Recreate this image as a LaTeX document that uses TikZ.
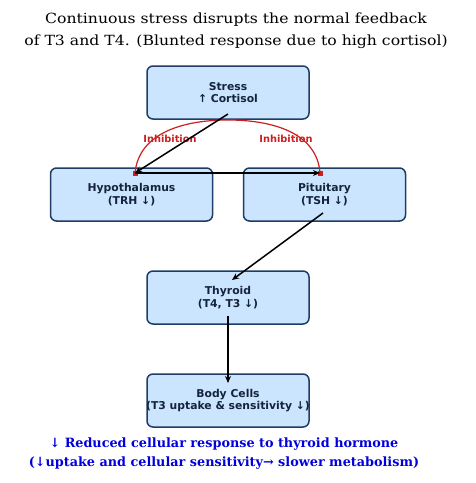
\documentclass[tikz,border=0pt]{standalone}
\usepackage{fontspec}
\setmainfont{DejaVu Serif}
\setsansfont{DejaVu Sans}
\newfontfamily\titlefont[FakeStretch=1.12]{DejaVu Serif}
\usetikzlibrary{arrows.meta}
\definecolor{boxfill}{HTML}{CCE5FF}
\definecolor{boxdraw}{HTML}{1F3C66}
\definecolor{boxtext}{HTML}{14243A}
\definecolor{inhred}{HTML}{CC1F1F}
\definecolor{notblue}{HTML}{0000DD}
\begin{document}
\begin{tikzpicture}[x=1pt,y=-1pt,
  box/.style={draw=boxdraw,fill=boxfill,line width=1.5pt,rounded corners=6pt,
    minimum width=162pt,minimum height=53pt,inner sep=0pt,align=center,
    font=\sffamily\bfseries\fontsize{10.8}{12.8}\selectfont,text=boxtext},
  flow/.style={line width=1.5pt,-{Stealth[length=7pt,width=6pt]}},
  inh/.style={draw=inhred,line width=1.2pt},
  inhlab/.style={text=inhred,font=\sffamily\bfseries\fontsize{9.8}{11}\selectfont},
  endsq/.style={fill=inhred,minimum size=5pt,inner sep=0pt},
]
\useasboundingbox (0,0) rectangle (476,483);
\node[font=\titlefont\fontsize{14}{22}\selectfont,align=center] (title) at (236,31)
  {Continuous stress disrupts the normal feedback\\of T3 and T4. (Blunted response due to high cortisol)};
\node[box] (stress) at (228,92.5) {Stress\\↑ Cortisol};
\node[box] (hypo) at (131.5,194.5) {Hypothalamus\\(TRH ↓)};
\node[box] (pit) at (324.5,194.5) {Pituitary\\(TSH ↓)};
\node[box] (thy) at (228,297.5) {Thyroid\\(T4, T3 ↓)};
\node[box,inner xsep=-6pt] (cells) at (228,400.5) {Body Cells\\(T3 uptake \& sensitivity ↓)};
\coordinate (top) at (228,120);
\coordinate (hin) at (135,173);
\coordinate (pin) at (320,173);
\draw[inh] (hin) .. controls (139,132) and (185,120) .. (top);
\draw[inh] (top) .. controls (271,120) and (317,132) .. (pin);
\node[endsq] (hm) at (hin) {};
\node[endsq] (pm) at (pin) {};
\node[inhlab] (l1) at (170,139) {Inhibition};
\node[inhlab] (l2) at (286,139) {Inhibition};
\coordinate (s1) at (228,114);
\draw[flow] (s1) -- (hin);
\draw[flow] (hin) -- (pin);
\coordinate (p1) at (323,213);
\coordinate (t1) at (232,280);
\draw[flow] (p1) -- (t1);
\coordinate (t2) at (228,316);
\coordinate (c1) at (228,383);
\draw[flow] (t2) -- (c1);
\node[font=\bfseries\fontsize{12.8}{19}\selectfont,text=notblue,align=center] (note) at (224,454)
  {↓ Reduced cellular response to thyroid hormone\\(↓uptake and cellular sensitivity→ slower metabolism)};
\end{tikzpicture}
\end{document}
